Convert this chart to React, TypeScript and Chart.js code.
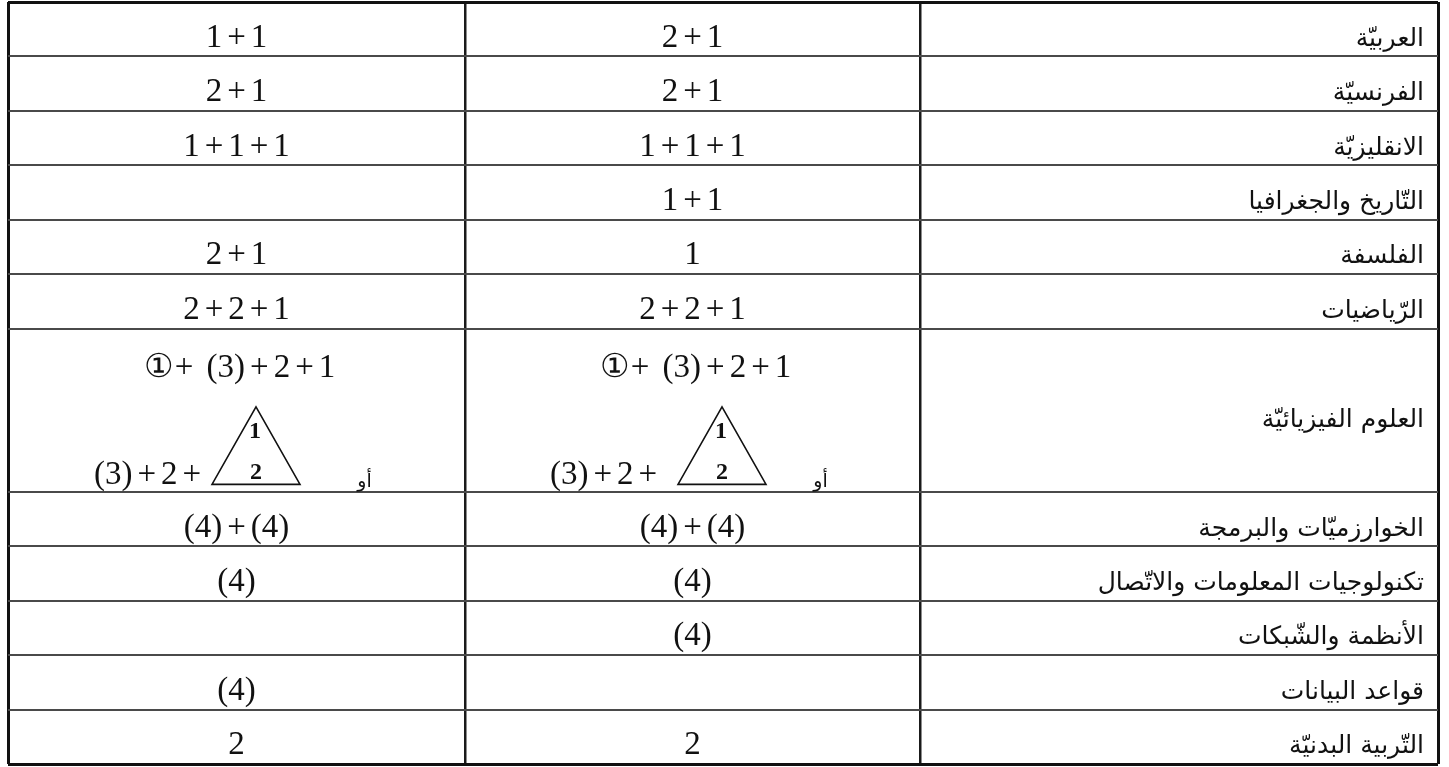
import React, { useEffect, useRef } from "react";
import { Chart, registerables } from "chart.js";

Chart.register(...registerables);

// ---------- data ----------
const subjects = [
  "العربيّة",
  "الفرنسيّة",
  "الانقليزيّة",
  "التّاريخ والجغرافيا",
  "الفلسفة",
  "الرّياضيات",
  "العلوم الفيزيائيّة",
  "الخوارزميّات والبرمجة",
  "تكنولوجيات المعلومات والاتّصال",
  "الأنظمة والشّبكات",
  "قواعد البيانات",
  "التّربية البدنيّة",
];

const leftColumn = ["1+1", "2+1", "1+1+1", "", "2+1", "2+2+1", "①+ (3)+2+1", "(4)+(4)", "(4)", "", "(4)", "2"];
const middleColumn = ["2+1", "2+1", "1+1+1", "1+1", "1", "2+2+1", "①+ (3)+2+1", "(4)+(4)", "(4)", "(4)", "", "2"];

const rowSpans = [1, 1, 1, 1, 1, 1, 3, 1, 1, 1, 1, 1];

const alternativeFormula = "(3)+2+";
const triangleTop = "1";
const triangleBottom = "2";
const orWord = "أو";

// ---------- layout ----------
const colEdges = [0, 457, 912, 1430];
const rowEdges: number[] = [0];
rowSpans.forEach((s) => rowEdges.push(rowEdges[rowEdges.length - 1] + s));
const totalRows = rowEdges[rowEdges.length - 1];
const triangleShift = [19.5, 29.5];

const SERIF = "33px 'Liberation Serif', 'Times New Roman', serif";
const ARABIC = "25px 'DejaVu Sans', sans-serif";

function drawMath(ctx: CanvasRenderingContext2D, s: string, cx: number, baseline: number) {
  ctx.font = SERIF;
  const chars = Array.from(s);
  const pieces: { ch: string; w: number; pl: number; pr: number }[] = [];
  chars.forEach((ch, i) => {
    let pl = 0;
    let pr = 0;
    if (ch === "+") {
      pl = i > 0 && chars[i - 1] === "①" ? 1 : 5;
      pr = 5;
    }
    pieces.push({ ch, w: ctx.measureText(ch).width, pl, pr });
  });
  const last = pieces[pieces.length - 1];
  let total = pieces.reduce((a, p) => a + p.w + p.pl + p.pr, 0);
  if (last) total -= last.pr;
  let x = cx - total / 2;
  ctx.textAlign = "left";
  ctx.textBaseline = "alphabetic";
  pieces.forEach((p) => {
    x += p.pl;
    ctx.fillText(p.ch, x, baseline);
    x += p.w + p.pr;
  });
}

const tablePlugin = {
  id: "tableText",
  afterDatasetsDraw(chart: any) {
    const { ctx, scales } = chart;
    const xs = scales.x;
    const ys = scales.y;
    ctx.save();
    ctx.fillStyle = "#111";
    ctx.strokeStyle = "#111";
    const ds = chart.data.datasets;
    ds.forEach((d: any, c: number) => {
      d.data.forEach((pt: any) => {
        const text: string = pt.text;
        if (!text) return;
        const r = pt.row;
        const top = ys.getPixelForValue(rowEdges[r]);
        const bottom = ys.getPixelForValue(rowEdges[r + 1]);
        const cy = ys.getPixelForValue(pt.y);
        if (c === 2) {
          const right = xs.getPixelForValue(colEdges[3]) - 14;
          ctx.font = ARABIC;
          ctx.direction = "rtl";
          ctx.textAlign = "right";
          ctx.textBaseline = "alphabetic";
          ctx.fillText(text, right, cy + 16.5);
          ctx.direction = "ltr";
          return;
        }
        const cx = xs.getPixelForValue(pt.x);
        if (rowSpans[r] > 1) {
          drawMath(ctx, text, cx + 3, top + 48);
          drawMath(ctx, alternativeFormula, cx - 89, bottom - 8);
          const ax = cx + triangleShift[c];
          const ay = bottom - 85;
          const by = bottom - 7.5;
          ctx.lineWidth = 1.6;
          ctx.beginPath();
          ctx.moveTo(ax, ay);
          ctx.lineTo(ax + 44, by);
          ctx.lineTo(ax - 44, by);
          ctx.closePath();
          ctx.stroke();
          ctx.font = "bold 24px 'Liberation Serif', serif";
          ctx.textAlign = "center";
          ctx.textBaseline = "middle";
          ctx.fillText(triangleTop, ax - 1, ay + 25);
          ctx.fillText(triangleBottom, ax, ay + 66);
          ctx.font = "19px 'DejaVu Sans', sans-serif";
          ctx.direction = "rtl";
          ctx.textAlign = "center";
          ctx.textBaseline = "alphabetic";
          ctx.fillText(orWord, cx + 128, bottom - 5);
          ctx.direction = "ltr";
          return;
        }
        drawMath(ctx, text, cx, cy + 17.5);
      });
    });
    ctx.restore();
  },
};

function columnPoints(values: string[], col: number) {
  return values.map((t, r) => ({
    x: (colEdges[col] + colEdges[col + 1]) / 2,
    y: (rowEdges[r] + rowEdges[r + 1]) / 2,
    text: t,
    row: r,
  }));
}

export default function App() {
  const ref = useRef<HTMLCanvasElement | null>(null);
  useEffect(() => {
    if (!ref.current) return;
    const lastX = colEdges.length - 1;
    const lastY = rowEdges.length - 1;
    const chart = new Chart(ref.current, {
      type: "scatter",
      data: {
        datasets: [
          { label: "col1", data: columnPoints(leftColumn, 0) as any, pointRadius: 0 },
          { label: "col2", data: columnPoints(middleColumn, 1) as any, pointRadius: 0 },
          { label: "subjects", data: columnPoints(subjects, 2) as any, pointRadius: 0 },
        ],
      },
      options: {
        responsive: false,
        animation: false,
        events: [],
        layout: { padding: { left: 8, top: 2, right: 11, bottom: 3 } },
        plugins: { legend: { display: false }, tooltip: { enabled: false } },
        scales: {
          x: {
            type: "linear",
            min: 0,
            max: colEdges[lastX],
            ticks: { display: false },
            border: { display: false },
            grid: {
              drawTicks: false,
              color: (c: any) => (c.index === 0 || c.index === lastX ? "#111" : "#1a1a1a"),
              lineWidth: (c: any) => (c.index === 0 || c.index === lastX ? 3 : 2.5),
            },
            afterBuildTicks: (s: any) => {
              s.ticks = colEdges.map((v) => ({ value: v }));
            },
          },
          y: {
            type: "linear",
            reverse: true,
            min: 0,
            max: totalRows,
            ticks: { display: false },
            border: { display: false },
            grid: {
              drawTicks: false,
              color: (c: any) => (c.index === 0 || c.index === lastY ? "#111" : "#4a4a4a"),
              lineWidth: (c: any) => (c.index === 0 || c.index === lastY ? 3 : 2),
            },
            afterBuildTicks: (s: any) => {
              s.ticks = rowEdges.map((v) => ({ value: v }));
            },
          },
        },
      },
      plugins: [tablePlugin],
    });
    return () => chart.destroy();
  }, []);
  return (
    <div style={{ position: "absolute", left: 0, top: 0, width: 1449, height: 767, background: "#fff" }}>
      <canvas ref={ref} width={1449} height={767} style={{ display: "block" }} />
    </div>
  );
}
